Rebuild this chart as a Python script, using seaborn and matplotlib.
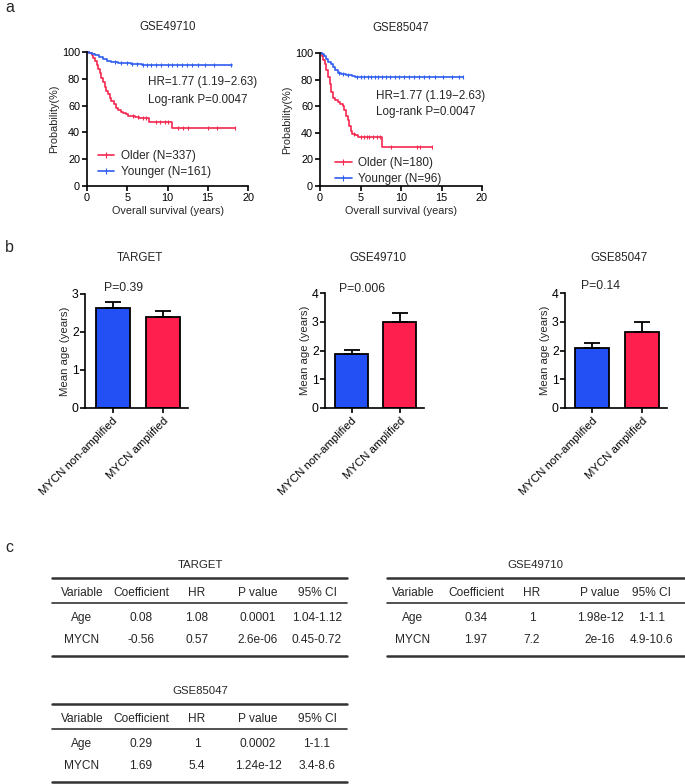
import numpy as np
import pandas as pd
import matplotlib
matplotlib.use("Agg")
import matplotlib.pyplot as plt
from matplotlib.lines import Line2D
import seaborn as sns

# ---- panel a: Kaplan-Meier curves ----
g497_old_t = [0, 0.3, 0.6, 0.8, 1.0, 1.2, 1.4, 1.6, 1.8, 2.0, 2.2, 2.4, 2.6, 2.8, 3.0, 3.3,
              3.6, 3.9, 4.2, 4.5, 4.8, 5.1, 5.5, 6.0, 6.4, 7.0, 7.7, 10.5, 18.4]
g497_old_s = [100, 99, 97.5, 95.5, 93, 90.5, 87.5, 84, 80.5, 77.5, 74, 71, 68.5, 66, 63.5, 61,
              58.5, 56.5, 55.5, 54.5, 53.5, 52.5, 52, 51.5, 51, 50.5, 47.5, 43, 43]
g497_old_cens = [5.7, 6.3, 6.9, 7.3, 8.6, 9.1, 9.7, 10.1, 11.3, 11.9, 12.5, 15.0, 16.2, 18.4]
g497_young_t = [0, 0.3, 0.6, 1.0, 1.5, 2.0, 2.5, 3.0, 3.8, 4.5, 5.5, 6.8, 18.0]
g497_young_s = [100, 99.5, 98.5, 97.5, 96, 94.5, 93.5, 92.5, 92, 91.5, 91, 90.5, 90.5]
g497_young_cens = [3.5, 4.2, 5.0, 5.6, 6.2, 7.0, 7.5, 8.0, 8.6, 9.2, 10.0, 10.6, 11.2, 11.8,
                   12.4, 13.0, 13.8, 14.6, 15.8, 17.9]

g850_old_t = [0, 0.2, 0.4, 0.6, 0.8, 1.0, 1.2, 1.4, 1.6, 1.9, 2.2, 2.5, 2.8, 3.0, 3.2, 3.4,
              3.6, 3.8, 4.0, 4.3, 4.7, 7.6, 13.8]
g850_old_s = [100, 98, 95, 92, 87, 82, 77, 71, 66, 64.5, 63, 62, 60, 57, 53, 49.5,
              45, 41, 39, 38, 37, 29.5, 29.5]
g850_old_cens = [4.2, 5.0, 5.4, 5.8, 6.1, 6.5, 7.0, 7.4, 8.8, 12.0, 12.3, 13.8]
g850_young_t = [0, 0.2, 0.5, 0.8, 1.0, 1.3, 1.6, 1.9, 2.2, 2.6, 3.2, 3.9, 4.3, 17.7]
g850_young_s = [100, 99, 97.5, 95.5, 93.5, 91.5, 89.5, 87.5, 85, 84, 83.5, 82.8, 82.2, 82.2]
g850_young_cens = [2.4, 2.9, 3.5, 4.6, 5.0, 5.4, 5.9, 6.3, 6.8, 7.2, 7.7, 8.2, 8.7, 9.2, 9.8,
                   10.4, 11.0, 11.6, 12.2, 12.8, 13.4, 14.2, 15.2, 16.3, 17.2, 17.7]

km_titles = ["GSE49710", "GSE85047"]
km_legend = [["Older (N=337)", "Younger (N=161)"], ["Older (N=180)", "Younger (N=96)"]]
hr_text = ["HR=1.77 (1.19\u22122.63)", "HR=1.77 (1.19\u22122.63)"]
lr_text = ["Log-rank P=0.0047", "Log-rank P=0.0047"]

# ---- panel b: mean age bars ----
bar_cats = ["MYCN non-amplified", "MYCN amplified"]
bar_titles = ["TARGET", "GSE49710", "GSE85047"]
bar_means = [[2.63, 2.39], [1.88, 3.0], [2.09, 2.64]]
bar_err = [[0.16, 0.16], [0.14, 0.30], [0.17, 0.35]]
bar_pvals = ["P=0.39", "P=0.006", "P=0.14"]
bar_ymax = [3, 4, 4]

# ---- panel c: Cox tables ----
tab_header = ["Variable", "Coefficient", "HR", "P value", "95% CI"]
tab_target = [["Age", "0.08", "1.08", "0.0001", "1.04-1.12"],
              ["MYCN", "-0.56", "0.57", "2.6e-06", "0.45-0.72"]]
tab_gse49710 = [["Age", "0.34", "1", "1.98e-12", "1-1.1"],
                ["MYCN", "1.97", "7.2", "2e-16", "4.9-10.6"]]
tab_gse85047 = [["Age", "0.29", "1", "0.0002", "1-1.1"],
                ["MYCN", "1.69", "5.4", "1.24e-12", "3.4-8.6"]]

RED = "#f5284f"
BLUE = "#2f5ef0"
BAR_BLUE = "#2350f5"
BAR_RED = "#ff1f4f"

sns.set_theme(style="ticks")
plt.rcParams["font.family"] = ["Liberation Sans", "DejaVu Sans"]
plt.rcParams["axes.linewidth"] = 1.2
plt.rcParams["xtick.major.width"] = 1.2
plt.rcParams["ytick.major.width"] = 1.2
plt.rcParams["xtick.major.size"] = 3.5
plt.rcParams["ytick.major.size"] = 3.5
plt.rcParams["xtick.color"] = "black"
plt.rcParams["ytick.color"] = "black"
plt.rcParams["axes.edgecolor"] = "black"

W, H = 685, 784
fig = plt.figure(figsize=(W / 100, H / 100), dpi=100)


def px_axes(x0, x1, ytop, ybot):
    return fig.add_axes([x0 / W, 1 - ybot / H, (x1 - x0) / W, (ybot - ytop) / H])


def step_val(t, s, x):
    i = np.searchsorted(t, x, side="right") - 1
    return np.array(s)[np.clip(i, 0, len(s) - 1)]


FS = 7.8
km_data = [
    [(g497_old_t, g497_old_s, g497_old_cens), (g497_young_t, g497_young_s, g497_young_cens)],
    [(g850_old_t, g850_old_s, g850_old_cens), (g850_young_t, g850_young_s, g850_young_cens)],
]
km_boxes = [(87, 248, 52, 186), (320, 482, 53, 186)]
leg_pos = [(0.068, 0.27), (0.093, 0.22)]
txt_pos = [(0.379, 0.775, 0.641), (0.346, 0.68, 0.556)]

for k in range(2):
    ax = px_axes(*km_boxes[k])
    for (t, s, c), col in zip(km_data[k], [RED, BLUE]):
        df = pd.DataFrame({"t": t, "s": s})
        sns.lineplot(data=df, x="t", y="s", drawstyle="steps-post", estimator=None,
                     sort=False, color=col, linewidth=1.2, ax=ax, clip_on=False)
        ax.plot(c, step_val(t, s, c), linestyle="none", marker="|", color=col,
                markersize=3.5, markeredgewidth=0.8, clip_on=False)
    ax.set_xlim(0, 20)
    ax.set_ylim(0, 100)
    ax.set_xticks([0, 5, 10, 15, 20])
    ax.set_yticks([0, 20, 40, 60, 80, 100])
    ax.tick_params(labelsize=FS, pad=1.5)
    ax.set_xlabel("Overall survival (years)", fontsize=FS, labelpad=2)
    ax.set_ylabel("Probability(%)", fontsize=FS, labelpad=2)
    ax.set_title(km_titles[k], fontsize=8.3, pad=16)
    sns.despine(ax=ax)
    tx, ty1, ty2 = txt_pos[k]
    ax.text(tx, ty1, hr_text[k], transform=ax.transAxes, fontsize=8.4, va="center")
    ax.text(tx, ty2, lr_text[k], transform=ax.transAxes, fontsize=8.4, va="center")
    handles = [Line2D([0], [0], color=RED, lw=1.2, marker="|", ms=4, mew=0.8),
               Line2D([0], [0], color=BLUE, lw=1.2, marker="|", ms=4, mew=0.8)]
    ax.legend(handles, km_legend[k], loc="upper left", bbox_to_anchor=leg_pos[k],
              frameon=False, fontsize=8.5, borderpad=0, borderaxespad=0,
              handlelength=1.4, handletextpad=0.55, labelspacing=0.38, numpoints=1)

# ---- panel b ----
bar_boxes = [(85, 188, 294, 408), (325, 424, 293, 408), (565, 667, 293, 408)]
p_pos = [(124, 288), (362, 289), (600, 286)]
for k in range(3):
    ax = px_axes(*bar_boxes[k])
    df = pd.DataFrame({"grp": bar_cats, "age": bar_means[k]})
    sns.barplot(data=df, x="grp", y="age", hue="grp", palette=[BAR_BLUE, BAR_RED],
                saturation=1, width=0.68, edgecolor="black", linewidth=1.3,
                legend=False, ax=ax, errorbar=None)
    ax.errorbar([0, 1], bar_means[k], yerr=[[0, 0], bar_err[k]], fmt="none",
                ecolor="black", elinewidth=1.3, capsize=5.5, capthick=1.3)
    ax.set_xlim(-0.55, 1.5)
    ax.set_ylim(0, bar_ymax[k])
    ax.set_yticks(range(bar_ymax[k] + 1))
    ax.set_xlabel("")
    ax.set_ylabel("Mean age (years)", fontsize=8.2, labelpad=1)
    ax.set_xticks([0, 1])
    ax.set_xticklabels(bar_cats, rotation=45, ha="right", rotation_mode="anchor",
                       fontsize=8.2)
    ax.tick_params(axis="y", labelsize=8.8, pad=1)
    ax.tick_params(axis="x", pad=2)
    sns.despine(ax=ax)
    x0, x1 = bar_boxes[k][0], bar_boxes[k][1]
    fig.text((x0 + x1) / 2 / W + 0.005, 1 - 258 / H, bar_titles[k], ha="center",
             va="center", fontsize=8.4)
    fig.text(p_pos[k][0] / W, 1 - p_pos[k][1] / H, bar_pvals[k], ha="center",
             va="center", fontsize=8.8)

# ---- panel c ----
col_left = [82, 141, 197, 258, 317]
col_right = [413, 476, 532, 600, 652]
TFS = 8.6


def draw_table(title, rows, xl, xr, cols, y0, title_x):
    def hline(y, lw):
        fig.add_artist(Line2D([xl / W, xr / W], [1 - y / H, 1 - y / H], color="#333333",
                              lw=lw, transform=fig.transFigure))
    fig.text(title_x / W, 1 - (y0 - 13) / H, title, ha="center", va="center", fontsize=8.2)
    hline(y0, 1.8)
    hline(y0 + 25, 1.2)
    hline(y0 + 78, 1.8)
    for cx, h in zip(cols, tab_header):
        fig.text(cx / W, 1 - (y0 + 15) / H, h, ha="center", va="center", fontsize=TFS)
    for r, ry in zip(rows, [y0 + 40, y0 + 62]):
        for cx, v in zip(cols, r):
            fig.text(cx / W, 1 - ry / H, v, ha="center", va="center", fontsize=TFS)


draw_table("TARGET", tab_target, 52, 347, col_left, 578, 200)
draw_table("GSE49710", tab_gse49710, 387, 685, col_right, 578, 535)
draw_table("GSE85047", tab_gse85047, 52, 347, col_left, 704, 200)

# panel letters
for lab, y in [("a", 8), ("b", 248), ("c", 547)]:
    fig.text(5 / W, 1 - y / H, lab, fontsize=11.5, va="center", ha="left")

fig.savefig("out.png", dpi=100)
